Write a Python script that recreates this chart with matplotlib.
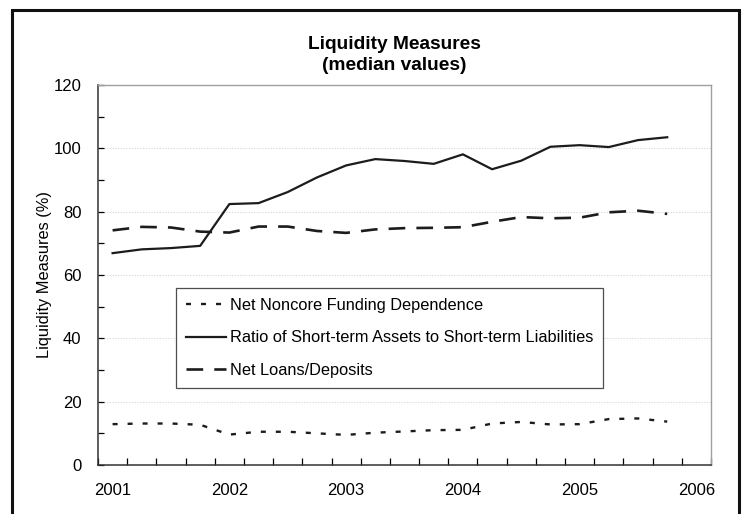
import matplotlib.pyplot as plt
from matplotlib.patches import Rectangle
from matplotlib.ticker import MultipleLocator, FixedLocator

plt.rcParams['font.family'] = ['Liberation Sans', 'DejaVu Sans']
plt.rcParams['lines.scale_dashes'] = False

# quarterly medians, 2001Q1 .. 2005Q4 (the 2006Q1 slot on the axis is empty)
year_labels = ['2001', '2002', '2003', '2004', '2005', '2006']
noncore = [12.9, 13.1, 13.1, 12.7, 9.6, 10.5, 10.5, 10.0, 9.5, 10.2,
           10.6, 11.0, 11.1, 13.1, 13.6, 12.8, 12.9, 14.5, 14.7, 13.7]
st_ratio = [66.9, 68.1, 68.5, 69.2, 82.4, 82.7, 86.2, 90.8, 94.6, 96.6,
            96.0, 95.1, 98.1, 93.4, 96.1, 100.5, 101.0, 100.4, 102.6, 103.5]
loans_dep = [74.1, 75.2, 75.0, 73.7, 73.4, 75.3, 75.3, 73.9, 73.3, 74.4,
             74.8, 74.9, 75.1, 76.8, 78.3, 77.9, 78.1, 79.8, 80.3, 79.3]

n_slots = 21
x = list(range(len(noncore)))

fig = plt.figure(figsize=(7.43, 5.14), dpi=100)
ax = fig.add_axes([98 / 743, 1 - 465 / 514, 613 / 743, 380 / 514])

ink = '#1c1c1c'
ax.plot(x, noncore, color=ink, lw=1.7, dashes=(3.6, 7.2),
        dash_capstyle='butt', label='Net Noncore Funding Dependence')
ax.plot(x, st_ratio, color=ink, lw=1.6,
        label='Ratio of Short-term Assets to Short-term Liabilities')
ax.plot(x, loans_dep, color=ink, lw=1.9, dashes=(12, 8),
        dash_capstyle='butt', label='Net Loans/Deposits')

ax.set_xlim(-0.5, n_slots - 0.5)
ax.set_ylim(0, 120)

# category axis: labels every 4 quarters, tick marks between categories
ax.xaxis.set_major_locator(FixedLocator(list(range(0, n_slots, 4))))
ax.set_xticklabels(year_labels)
ax.xaxis.set_minor_locator(FixedLocator([i - 0.5 for i in range(n_slots + 1)]))
ax.tick_params(axis='x', which='major', length=0, pad=13, labelsize=12)
ax.tick_params(axis='x', which='minor', direction='in', length=5, width=0.9)

ax.yaxis.set_major_locator(MultipleLocator(20))
ax.yaxis.set_minor_locator(MultipleLocator(10))
ax.tick_params(axis='y', which='both', direction='in', length=4, width=0.9,
               labelsize=12, pad=12)

ax.grid(axis='y', which='major', color='#dcdcdc', lw=0.8, ls=(0, (1, 1)))
ax.set_axisbelow(True)

for side in ['top', 'right']:
    ax.spines[side].set_color('#a0a0a0')
    ax.spines[side].set_linewidth(1.0)
for side in ['left', 'bottom']:
    ax.spines[side].set_color('#333333')
    ax.spines[side].set_linewidth(1.1)

ax.set_ylabel('Liquidity Measures (%)', fontsize=11.8, labelpad=1)

fig.text(394 / 743, 1 - 55 / 514, 'Liquidity Measures\n(median values)',
         ha='center', va='center', fontsize=13.8, fontweight='bold',
         linespacing=1.3)

leg = ax.legend(loc='upper left', bbox_to_anchor=(176 / 743, 1 - 288 / 514),
                bbox_transform=fig.transFigure, fontsize=11.8, frameon=True,
                fancybox=False, handlelength=2.45, handletextpad=0.2,
                labelspacing=1.05, borderpad=0.62, borderaxespad=0)
leg.get_frame().set_edgecolor('#222222')
leg.get_frame().set_linewidth(0.9)

# outer chart frame
fig.patches.append(Rectangle((12 / 743, -0.05), 727 / 743, 1.05 - 10 / 514,
                             transform=fig.transFigure, fill=False,
                             edgecolor='#111111', lw=2.2))

fig.savefig('out.png', dpi=100)
